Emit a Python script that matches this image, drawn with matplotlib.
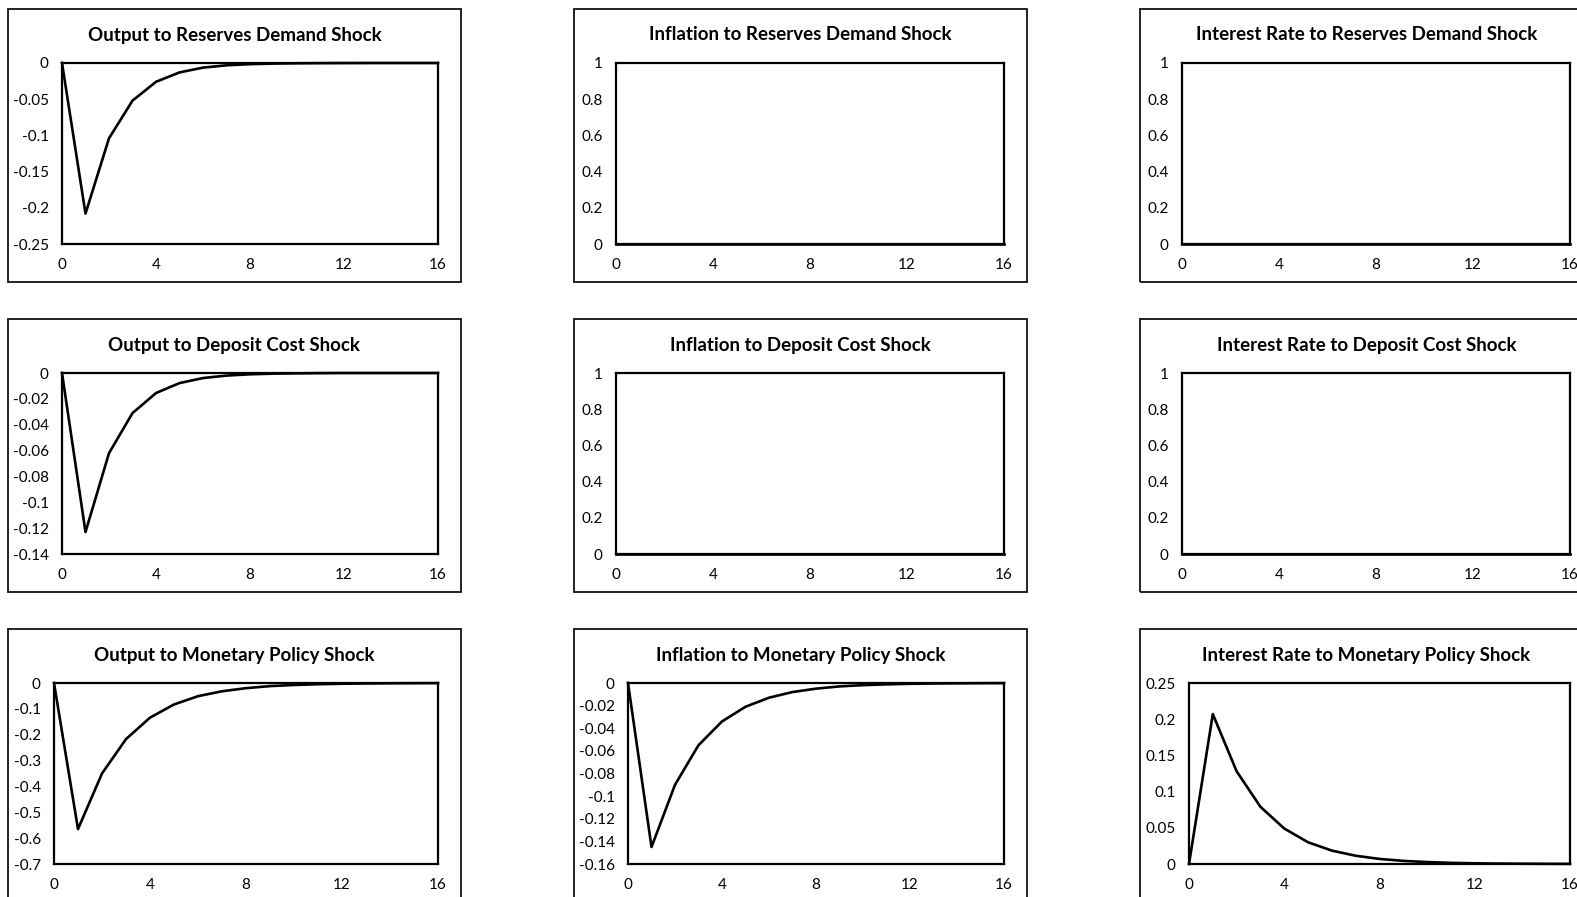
import matplotlib
matplotlib.use("Agg")
import matplotlib.pyplot as plt
from matplotlib.patches import Rectangle

plt.rcParams['font.family'] = ['Lato', 'DejaVu Sans']

W, H = 1577, 897

# impulse responses, quarters 0..16
horizon = list(range(17))

out_rd = [0, -0.208, -0.104, -0.052, -0.026, -0.013, -0.0064, -0.0032, -0.0016,
          -0.0008, -0.0004, -0.0002, -0.0001, 0, 0, 0, 0]
inf_rd = [0, 0, 0, 0, 0, 0, 0, 0, 0, 0, 0, 0, 0, 0, 0, 0, 0]
ir_rd = [0, 0, 0, 0, 0, 0, 0, 0, 0, 0, 0, 0, 0, 0, 0, 0, 0]

out_dc = [0, -0.123, -0.062, -0.031, -0.0155, -0.0078, -0.0039, -0.002, -0.001,
          -0.0005, -0.00025, -0.0001, 0, 0, 0, 0, 0]
inf_dc = [0, 0, 0, 0, 0, 0, 0, 0, 0, 0, 0, 0, 0, 0, 0, 0, 0]
ir_dc = [0, 0, 0, 0, 0, 0, 0, 0, 0, 0, 0, 0, 0, 0, 0, 0, 0]

out_mp = [0, -0.565, -0.350, -0.217, -0.134, -0.083, -0.051, -0.032, -0.020,
          -0.012, -0.0076, -0.0047, -0.0029, -0.0018, -0.0011, -0.0007, -0.0004]
inf_mp = [0, -0.145, -0.090, -0.055, -0.034, -0.021, -0.013, -0.008, -0.005,
          -0.003, -0.0019, -0.0012, -0.0007, -0.00045, -0.00028, -0.00017, -0.0001]
ir_mp = [0, 0.207, 0.128, 0.079, 0.049, 0.030, 0.0185, 0.0114, 0.007,
         0.0043, 0.0027, 0.0016, 0.001, 0.0006, 0.0004, 0.00024, 0.00015]

titles = [
    ["Output to Reserves Demand Shock", "Inflation to Reserves Demand Shock", "Interest Rate to Reserves Demand Shock"],
    ["Output to Deposit Cost Shock", "Inflation to Deposit Cost Shock", "Interest Rate to Deposit Cost Shock"],
    ["Output to Monetary Policy Shock", "Inflation to Monetary Policy Shock", "Interest Rate to Monetary Policy Shock"],
]
series = [
    [out_rd, inf_rd, ir_rd],
    [out_dc, inf_dc, ir_dc],
    [out_mp, inf_mp, ir_mp],
]

unit_ticks = [0, 0.2, 0.4, 0.6, 0.8, 1]
yticks = [
    [[0, -0.05, -0.1, -0.15, -0.2, -0.25], unit_ticks, unit_ticks],
    [[0, -0.02, -0.04, -0.06, -0.08, -0.1, -0.12, -0.14], unit_ticks, unit_ticks],
    [[0, -0.1, -0.2, -0.3, -0.4, -0.5, -0.6, -0.7],
     [0, -0.02, -0.04, -0.06, -0.08, -0.1, -0.12, -0.14, -0.16],
     [0, 0.05, 0.1, 0.15, 0.2, 0.25]],
]
xticks = [0, 4, 8, 12, 16]

# layout in pixels
box_left = [8, 574, 1140]
box_top = [9, 319, 629]
box_w, box_h = 453, 273
plot_left_off = [[54, 42, 42], [54, 42, 42], [46, 54, 49]]
plot_right_off = 430
plot_top_off, plot_bot_off = 54, 235
title_off = 26

fig = plt.figure(figsize=(W / 100, H / 100), dpi=100)
fig.patch.set_facecolor('white')

for r in range(3):
    for c in range(3):
        bx, by = box_left[c], box_top[r]
        # chart frame
        fig.add_artist(Rectangle((bx / W, 1 - (by + box_h) / H), box_w / W, box_h / H,
                                 transform=fig.transFigure, fill=False,
                                 edgecolor='#111111', linewidth=1.3))
        fig.text((bx + box_w / 2) / W, 1 - (by + title_off) / H, titles[r][c],
                 ha='center', va='center', fontsize=13.5, fontweight='bold')

        l = bx + plot_left_off[r][c]
        rr = bx + plot_right_off
        t = by + plot_top_off
        b = by + plot_bot_off
        ax = fig.add_axes([l / W, 1 - b / H, (rr - l) / W, (b - t) / H])

        yt = yticks[r][c]
        ax.plot(horizon, series[r][c], color='black', linewidth=1.9,
                clip_on=False, zorder=3)
        ax.set_xlim(0, 16)
        ax.set_ylim(min(yt), max(yt))
        ax.set_xticks(xticks)
        ax.set_xticklabels([str(v) for v in xticks])
        ax.set_yticks(yt)
        ax.set_yticklabels(['{:g}'.format(v) for v in yt])
        ax.tick_params(length=0, labelsize=11)
        ax.tick_params(axis='y', pad=9.5)
        ax.tick_params(axis='x', pad=10)
        for s in ax.spines.values():
            s.set_linewidth(1.6)
            s.set_color('black')

fig.savefig("out.png", dpi=100)
